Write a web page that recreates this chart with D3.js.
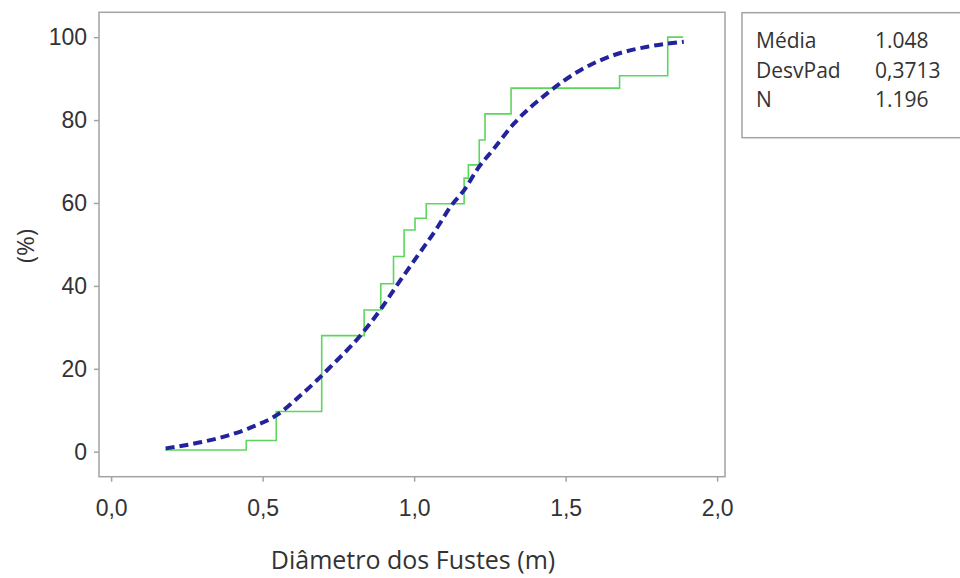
<!DOCTYPE html>
<html lang="pt">
<head>
<meta charset="UTF-8">
<title>Diâmetro dos Fustes - distribuição acumulada</title>
<script src="https://d3js.org/d3.v7.min.js"></script>
<style>
  body { margin: 0; background: #fff; }
  svg { display: block; font-family: "Open Sans", Arial, sans-serif; }
  .tick text { font-size: 23px; fill: #333; }
  .legend text { font-size: 21px; fill: #333; }
</style>
</head>
<body>
<svg width="960" height="578"></svg>
<script>
const stepX = [0.178, 0.446, 0.545, 0.695, 0.835, 0.890, 0.932, 0.967, 1.003, 1.040,
               1.165, 1.179, 1.215, 1.234, 1.320, 1.678, 1.837, 1.888];
const stepY = [0.4, 2.7, 9.7, 28.0, 34.2, 40.5, 47.1, 53.5, 56.3, 59.8,
               66.0, 69.2, 75.2, 81.5, 87.7, 90.7, 100, 100];

// fitted curve (dashed)
const fitX = [0.18, 0.29, 0.39, 0.46, 0.55, 0.61, 0.68, 0.72, 0.82, 0.89, 0.94, 1.01,
              1.075, 1.12, 1.17, 1.21, 1.26, 1.33, 1.44, 1.55, 1.66, 1.77, 1.89];
const fitY = [0.8, 2.2, 4.0, 5.8, 9.0, 12.6, 17.3, 20.2, 27.8, 34.4, 39.8, 47.1,
              53.9, 59.1, 63.6, 68.3, 72.8, 79.2, 86.5, 92.1, 95.7, 97.7, 98.9];

const xTicks = [0, 0.5, 1.0, 1.5, 2.0];
const yTicks = [0, 20, 40, 60, 80, 100];

const legendNames = ["Média", "DesvPad", "N"];
const legendValues = ["1.048", "0,3713", "1.196"];

const svg = d3.select("svg");
const plot = { left: 99, right: 725, top: 12.3, bottom: 476.7 };

const x = d3.scaleLinear().domain([-0.04, 2.026]).range([plot.left, plot.right]);
const y = d3.scaleLinear().domain([-6.03, 106]).range([plot.bottom, plot.top]);

// frame
svg.append("rect")
  .attr("x", plot.left).attr("y", plot.top)
  .attr("width", plot.right - plot.left).attr("height", plot.bottom - plot.top)
  .attr("fill", "none").attr("stroke", "#a3a3a3").attr("stroke-width", 1.5);

// axes
const xAxis = svg.append("g")
  .attr("transform", `translate(0,${plot.bottom})`)
  .call(d3.axisBottom(x).tickValues(xTicks).tickSize(5).tickPadding(18)
    .tickFormat(d => d3.format(".1f")(d).replace(".", ",")));
const yAxis = svg.append("g")
  .attr("transform", `translate(${plot.left},0)`)
  .call(d3.axisLeft(y).tickValues(yTicks).tickSize(5).tickPadding(7));

[xAxis, yAxis].forEach(a => {
  a.select(".domain").remove();
  a.selectAll(".tick line").attr("stroke", "#a3a3a3").attr("stroke-width", 1.5);
  a.selectAll(".tick text").attr("font-family", null);
});

// step line
const stepData = stepX.map((v, i) => [v, stepY[i]]);
svg.append("path")
  .datum(stepData)
  .attr("fill", "none")
  .attr("stroke", "#5cd65c")
  .attr("stroke-width", 1.6)
  .attr("d", d3.line().x(d => x(d[0])).y(d => y(d[1])).curve(d3.curveStepAfter));

// fitted dashed curve
const fitData = fitX.map((v, i) => [v, fitY[i]]);
svg.append("path")
  .datum(fitData)
  .attr("fill", "none")
  .attr("stroke", "#23239c")
  .attr("stroke-width", 4)
  .attr("stroke-dasharray", "9,5")
  .attr("d", d3.line().x(d => x(d[0])).y(d => y(d[1])).curve(d3.curveMonotoneX));

// axis titles
svg.append("text")
  .attr("x", 413).attr("y", 569)
  .attr("text-anchor", "middle")
  .attr("font-size", 25).attr("fill", "#333")
  .text("Diâmetro dos Fustes (m)");

svg.append("text")
  .attr("transform", "translate(34,246) rotate(-90)")
  .attr("text-anchor", "middle")
  .attr("font-size", 24).attr("fill", "#333")
  .text("(%)");

// stats box
const legend = svg.append("g").attr("class", "legend");
legend.append("rect")
  .attr("x", 742).attr("y", 12.7).attr("width", 230).attr("height", 125)
  .attr("fill", "#fff").attr("stroke", "#a3a3a3").attr("stroke-width", 1.5);

legendNames.forEach((name, i) => {
  legend.append("text").attr("x", 756).attr("y", 48 + i * 29.5).text(name);
  legend.append("text").attr("x", 875).attr("y", 48 + i * 29.5).text(legendValues[i]);
});
</script>
</body>
</html>
